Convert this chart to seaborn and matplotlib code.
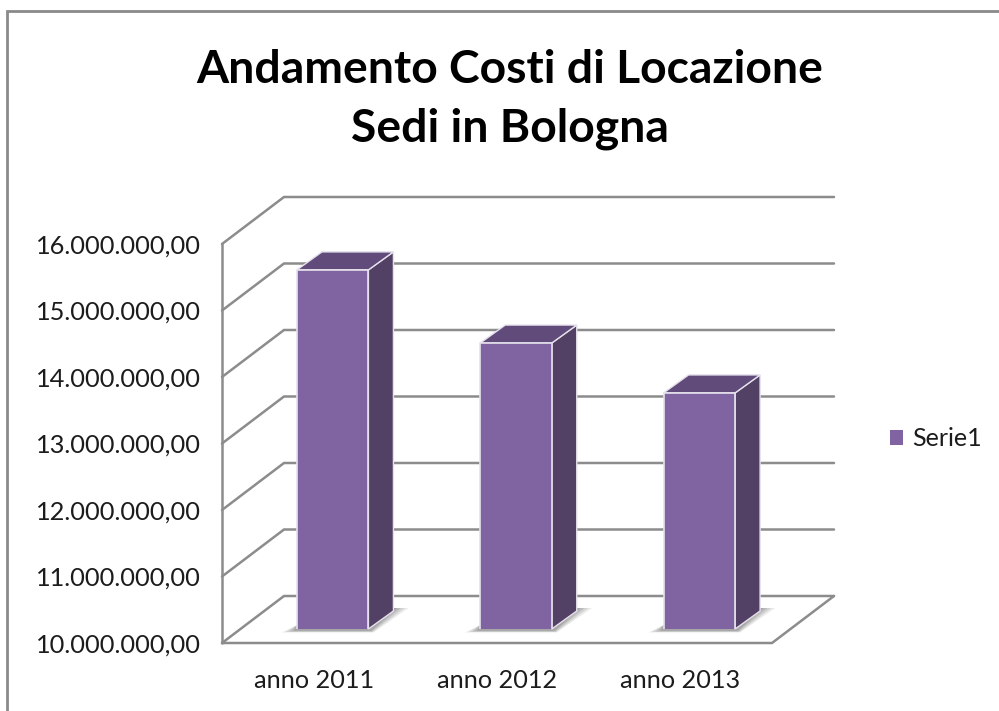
import matplotlib
matplotlib.use("Agg")
import matplotlib.pyplot as plt
import seaborn as sns
import pandas as pd
from matplotlib.patches import Polygon

categories = ["anno 2011", "anno 2012", "anno 2013"]
values = [15400000, 14300000, 13550000]
series_name = "Serie1"
tick_values = [10000000, 11000000, 12000000, 13000000, 14000000, 15000000, 16000000]
tick_labels = ["10.000.000,00", "11.000.000,00", "12.000.000,00", "13.000.000,00",
               "14.000.000,00", "15.000.000,00", "16.000.000,00"]
title_lines = ["Andamento Costi di Locazione", "Sedi in Bologna"]

W, H = 999, 711
FRONT = "#8064A2"
SIDE = "#524065"
TOP = "#604B7A"
GRID = "#8C8C8C"
FONT = "Lato"

sns.set_theme(style="white")
plt.rcParams["font.family"] = FONT

fig = plt.figure(figsize=(W / 100, H / 100), dpi=100, facecolor="white")

def rect(l, t, r, b):
    return [l / W, 1 - b / H, (r - l) / W, (b - t) / H]

ax = fig.add_axes(rect(222, 244, 772, 643))
bx = fig.add_axes(rect(241, 230, 791, 629))
bx.patch.set_alpha(0)
ylo, yhi = tick_values[0], tick_values[-1]
for a in (ax, bx):
    a.set_ylim(ylo, yhi)

df = pd.DataFrame({"anno": categories, "costo": values, "serie": series_name})
sns.barplot(data=df, x="anno", y="costo", hue="serie", palette=[FRONT], width=0.39,
            saturation=1, dodge=False, ax=bx, legend=True, edgecolor="#E6E1EC",
            linewidth=1.2, zorder=3)
bx.set_xlim(-0.5, 2.5)
bx.set_ylim(ylo, yhi)
bx.axis("off")

# Wall and floor of the 3D frame
ax.set_xlim(-0.5, 2.5)
sx = 3 / 550
sy = (yhi - ylo) / 399
dx, dy = 62 * sx, 47 * sy
lw = 1.8
for v in tick_values:
    ax.plot([-0.5, -0.5 + dx, 2.5 + dx], [v, v + dy, v + dy], color=GRID, lw=lw,
            clip_on=False, solid_joinstyle="miter", zorder=1)
ax.plot([-0.5, 2.5, 2.5 + dx], [ylo, ylo, ylo + dy], color=GRID, lw=lw, clip_on=False,
        solid_joinstyle="miter", zorder=1)
ax.plot([-0.5, -0.5], [ylo, yhi], color=GRID, lw=lw, clip_on=False, zorder=1)

ax.set_xticks(range(len(categories)), categories)
ax.set_yticks(tick_values, tick_labels)
ax.tick_params(axis="both", length=0, labelcolor="#1c1c1c")
ax.tick_params(axis="y", pad=15, labelsize=18.3)
ax.tick_params(axis="x", pad=19, labelsize=18.2)
ax.set_xlabel("")
ax.set_ylabel("")
for s in ax.spines.values():
    s.set_visible(False)

# Depth faces and floor shadow built from the seaborn bars
ddx, ddy = 25 * sx, 18 * sy
bars = [p for p in bx.patches if p.get_width() > 0]
for p in bars:
    x0 = p.get_x()
    x1 = x0 + p.get_width()
    top = p.get_y() + p.get_height()
    edge = "#E6E1EC"
    bx.add_patch(Polygon([(x1, ylo), (x1 + ddx, ylo + ddy), (x1 + ddx, top + ddy), (x1, top)],
                         closed=True, fc=SIDE, ec=edge, lw=1.0, clip_on=False, zorder=2.5))
    bx.add_patch(Polygon([(x0, top), (x0 + ddx, top + ddy), (x1 + ddx, top + ddy), (x1, top)],
                         closed=True, fc=TOP, ec=edge, lw=1.0, clip_on=False, zorder=2.5))
    for k, alpha in ((1.0, 0.16), (0.75, 0.2), (0.5, 0.25), (0.25, 0.3)):
        tip = 15 * k * sx
        low = 3.5 * (0.4 + 0.6 * k) * sy
        bx.add_patch(Polygon([(x0 - tip, ylo - low), (x0, ylo + 4 * sy),
                              (x1 + ddx, ylo + ddy + 3 * sy),
                              (x1 + ddx + tip, ylo + ddy + 3 * sy),
                              (x1 + 2 * sx + 3 * k * sx, ylo - low)],
                             closed=True, fc="#7A7A7A", ec="none", alpha=alpha,
                             clip_on=False, zorder=2))

# Legend
handles, labels = bx.get_legend_handles_labels()
bx.get_legend().remove()
for h in handles:
    h.set_edgecolor("none")
fig.legend(handles, labels, loc="center left", bbox_to_anchor=(890 / W, 1 - 439 / H),
           frameon=False, fontsize=18, handlelength=0.52, handleheight=0.52,
           handletextpad=0.36, borderpad=0, borderaxespad=0, labelcolor="#1c1c1c")

# Title
fig.text(509.5 / W, 1 - 70 / H, title_lines[0], ha="center", va="center",
         fontsize=33.3, fontweight="bold", color="black")
fig.text(509.5 / W, 1 - 129 / H, title_lines[1], ha="center", va="center",
         fontsize=33.3, fontweight="bold", color="black")

# Chart-area border, cropped at the right and bottom
fig.add_artist(plt.Line2D([7 / W, 7 / W, 1], [0, 1 - 11 / H, 1 - 11 / H], color="#8A8A8A", lw=2,
                          solid_joinstyle="miter"))

fig.savefig("out.png", dpi=100, facecolor="white")
